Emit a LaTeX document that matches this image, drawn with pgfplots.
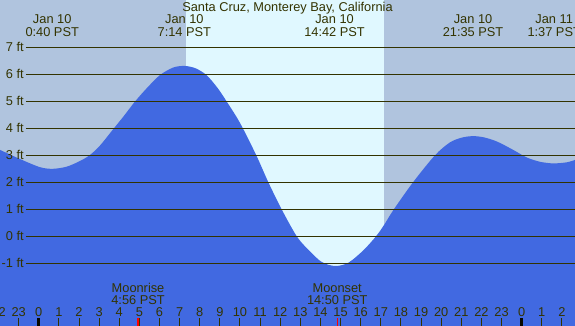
\documentclass[border=0pt]{standalone}
\usepackage{pgfplots}
\pgfplotsset{compat=1.18}
\usepackage{fontspec}
\setmainfont{Liberation Sans}
\definecolor{night}{HTML}{B0C4DE}
\definecolor{day}{HTML}{E0F8FF}
\definecolor{water}{HTML}{4169E1}
\definecolor{ink}{HTML}{333300}
\newcommand\lf{\fontsize{12.8bp}{15bp}\selectfont}
\tikzset{lbl/.style={font=\lf, text=ink, inner sep=0pt}}
\begin{document}
\begin{tikzpicture}
\begin{axis}[at={(0,0)}, anchor=south west, width=575bp, height=326bp,
  scale only axis, xmin=-1.928, xmax=26.650, ymin=-3.322, ymax=8.752,
  axis lines=none, ticks=none, clip=true, axis background/.style={fill=night}]
% daylight
\addplot[fill=day, draw=none]
  coordinates {(7.30,-5) (7.30,10) (17.16,10) (17.16,-5)} -- cycle;
% tide
\addplot[fill=water, draw=none, smooth, tension=0.5] coordinates {
(-1.928,3.20) (-0.93,2.86) (0.06,2.56) (0.70,2.50) (1.39,2.58) (2.05,2.79)
(2.54,3.01) (3.04,3.36) (3.70,3.97) (4.20,4.43) (4.78,4.99) (5.36,5.48)
(6.02,5.97) (6.68,6.25) (7.25,6.31) (7.80,6.22) (8.35,5.96) (8.90,5.48)
(9.34,4.99) (10.00,4.20) (10.81,3.00) (11.41,2.00) (12.07,1.00) (12.82,0.00)
(13.40,-0.50) (14.06,-0.95) (14.72,-1.10) (15.38,-0.98) (16.13,-0.52)
(16.76,0.00) (17.16,0.42) (17.62,0.97) (18.60,2.00) (19.69,3.00)
(20.44,3.48) (21.05,3.66) (21.60,3.71) (22.15,3.66) (22.80,3.50) (23.58,3.20)
(24.25,2.92) (24.91,2.76) (25.57,2.70) (26.24,2.74) (26.650,2.83)}
 -- (axis cs:26.65,-5) -- (axis cs:-1.928,-5) -- cycle;
% grid lines and labels
\pgfplotsinvokeforeach{-1,...,7}{
  \draw[ink, line width=1bp] (axis cs:-0.636,#1) -- (axis cs:27,#1);
  \node[lbl, anchor=east] at (axis cs:-0.736,#1) {#1 ft};
}
% title
\node[lbl, anchor=base] at (axis cs:12.36,8.344) {Santa Cruz, Monterey Bay, California};
% tide events
\node[lbl, anchor=base] at (axis cs:0.667,7.863) {Jan 10};
\node[lbl, anchor=base] at (axis cs:0.667,7.400) {0:40 PST};
\node[lbl, anchor=base] at (axis cs:7.233,7.863) {Jan 10};
\node[lbl, anchor=base] at (axis cs:7.233,7.400) {7:14 PST};
\node[lbl, anchor=base] at (axis cs:14.70,7.863) {Jan 10};
\node[lbl, anchor=base] at (axis cs:14.70,7.400) {14:42 PST};
\node[lbl, anchor=base] at (axis cs:21.583,7.863) {Jan 10};
\node[lbl, anchor=base] at (axis cs:21.583,7.400) {21:35 PST};
\node[lbl, anchor=base] at (axis cs:25.617,7.863) {Jan 11};
\node[lbl, anchor=base] at (axis cs:25.617,7.400) {1:37 PST};
% moon
\node[lbl, anchor=base] at (axis cs:4.933,-2.063) {Moonrise};
\node[lbl, anchor=base] at (axis cs:4.933,-2.519) {4:56 PST};
\node[lbl, anchor=base] at (axis cs:14.833,-2.063) {Moonset};
\node[lbl, anchor=base] at (axis cs:14.833,-2.519) {14:50 PST};
% hour ticks
\pgfplotsinvokeforeach{-1,...,26}{
  \draw[ink, line width=1bp] (axis cs:#1,-3.6) -- (axis cs:#1,-3.026);
}
\pgfplotsinvokeforeach{-2,...,26}{
  \node[lbl, anchor=base] at (axis cs:#1,-2.952) {\pgfmathtruncatemacro\hh{mod(#1+24,24)}\hh};
}
\draw[black!85!ink, line width=3.3bp] (axis cs:0,-3.6) -- (axis cs:0,-3.026);
\draw[black!85!ink, line width=3.3bp] (axis cs:24,-3.6) -- (axis cs:24,-3.026);
\draw[red, line width=1.3bp] (axis cs:4.933,-3.6) -- (axis cs:4.933,-3.026);
\draw[red, line width=1.3bp] (axis cs:14.833,-3.6) -- (axis cs:14.833,-3.026);
\end{axis}
\pgfresetboundingbox
\path[use as bounding box] (0,0) rectangle (575bp,326bp);
\end{tikzpicture}
\end{document}
